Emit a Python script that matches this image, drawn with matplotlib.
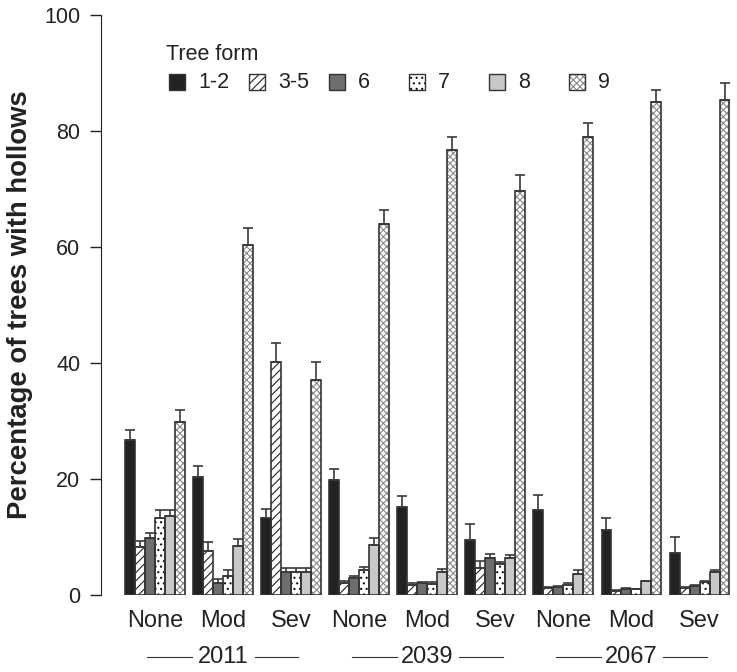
import matplotlib
matplotlib.use("Agg")
import matplotlib.pyplot as plt
from matplotlib.patches import Rectangle
import numpy as np

plt.rcParams['font.family'] = ['Liberation Sans', 'DejaVu Sans']
plt.rcParams['hatch.linewidth'] = 0.8

# groups: severity within year
severity = ["None", "Mod", "Sev", "None", "Mod", "Sev", "None", "Mod", "Sev"]
years = ["2011", "2039", "2067"]
forms = ["1-2", "3-5", "6", "7", "8", "9"]

form_12 = [26.8, 20.3, 13.2, 19.9, 15.1, 9.5, 14.7, 11.2, 7.2]
err_12 = [1.6, 2.0, 1.7, 1.8, 2.0, 2.8, 2.5, 2.0, 2.8]
form_35 = [8.3, 7.6, 40.2, 2.1, 1.7, 4.6, 1.2, 0.7, 1.2]
err_35 = [1.0, 1.6, 3.2, 0.3, 0.3, 1.3, 0.2, 0.2, 0.2]
form_6 = [9.8, 2.1, 3.9, 2.9, 2.0, 6.3, 1.4, 1.1, 1.6]
err_6 = [0.9, 0.7, 0.8, 0.4, 0.2, 0.7, 0.1, 0.1, 0.2]
form_7 = [13.3, 3.3, 3.9, 4.3, 1.9, 5.4, 1.8, 1.0, 2.3]
err_7 = [1.4, 1.0, 0.8, 0.6, 0.3, 0.3, 0.2, 0.1, 0.2]
form_8 = [13.6, 8.5, 3.9, 8.6, 4.0, 6.3, 3.7, 2.4, 4.0]
err_8 = [1.1, 1.2, 0.8, 1.2, 0.5, 0.6, 0.6, 0.1, 0.3]
form_9 = [29.9, 60.4, 37.0, 63.9, 76.8, 69.7, 78.9, 85.0, 85.4]
err_9 = [2.0, 2.9, 3.1, 2.4, 2.2, 2.7, 2.5, 2.1, 2.8]

values = [form_12, form_35, form_6, form_7, form_8, form_9]
errors = [err_12, err_35, err_6, err_7, err_8, err_9]

# (facecolor, hatch, hatch colour) per tree form
styles = [
    ("#222222", None, "#222222"),
    ("white", "////", "#222222"),
    ("#6e6e6e", None, "#6e6e6e"),
    ("white", "...", "#111111"),
    ("#c8c8c8", None, "#c8c8c8"),
    ("white", "xxxxx", "#8a8a8a"),
]
edge = "#333333"

fig = plt.figure(figsize=(7.37, 6.72), dpi=100)
ax = fig.add_axes([101 / 737, 77 / 672, 636 / 737, 580 / 672])

x = np.arange(len(severity))
w = 0.1466
for k, (vals, errs) in enumerate(zip(values, errors)):
    fc, hatch, hc = styles[k]
    pos = x + (k - 2.5) * w
    ax.bar(pos, vals, width=w, color=fc, hatch=hatch, edgecolor=hc, linewidth=0, zorder=2)
    ax.bar(pos, vals, width=w, fill=False, edgecolor=edge, linewidth=1.2, zorder=3)
    ax.errorbar(pos, vals, yerr=[np.zeros(len(errs)), errs], fmt='none',
                ecolor="#3a3a3a", elinewidth=1.2, capsize=3.8, capthick=1.2, zorder=4)

ax.set_xlim(-0.79, 8.55)
ax.set_ylim(0, 100)
ax.set_yticks([0, 20, 40, 60, 80, 100])
ax.tick_params(axis='y', labelsize=15.5, length=8, width=1, colors="#222222", pad=7)
ax.set_xticks(x)
ax.set_xticklabels(severity)
ax.tick_params(axis='x', length=0, labelsize=17, pad=11, labelcolor="#222222")
for s in ['top', 'right', 'bottom']:
    ax.spines[s].set_visible(False)
ax.spines['left'].set_color("#222222")
ax.set_ylabel("Percentage of trees with hollows", fontsize=19.8, fontweight='bold',
              color="#222222")
ax.yaxis.set_label_coords(-68 / 636, 0.5)

# year labels with flanking rules
tr = ax.get_xaxis_transform()
yy = -62 / 580
for i, yr in enumerate(years):
    c = 3 * i + 1
    ax.text(c, yy, yr, transform=tr, ha='center', va='center', fontsize=17, color="#222222")
    for a, b in [(-1.11, -0.45), (0.47, 1.11)]:
        ax.plot([c + a, c + b], [yy, yy], transform=tr, color="#333333",
                lw=0.8, clip_on=False)

# legend drawn by hand so that columns are evenly spaced
fig.text(166 / 737, 1 - 54 / 672, "Tree form", fontsize=15.5, va='center', ha='left', color="#222222")
for k, lab in enumerate(forms):
    fc, hatch, hc = styles[k]
    px = 169 + 80 * k
    fx, fy = px / 737, 1 - 90 / 672
    fw, fh = 16 / 737, 16 / 672
    fig.add_artist(Rectangle((fx, fy), fw, fh, transform=fig.transFigure, facecolor=fc,
                             hatch=hatch, edgecolor=hc, linewidth=0))
    fig.add_artist(Rectangle((fx, fy), fw, fh, transform=fig.transFigure, fill=False,
                             edgecolor=edge, linewidth=1.0))
    fig.text((px + 29) / 737, 1 - 82 / 672, lab, fontsize=15.5, va='center', ha='left', color="#222222")

fig.savefig("out.png", dpi=100)
